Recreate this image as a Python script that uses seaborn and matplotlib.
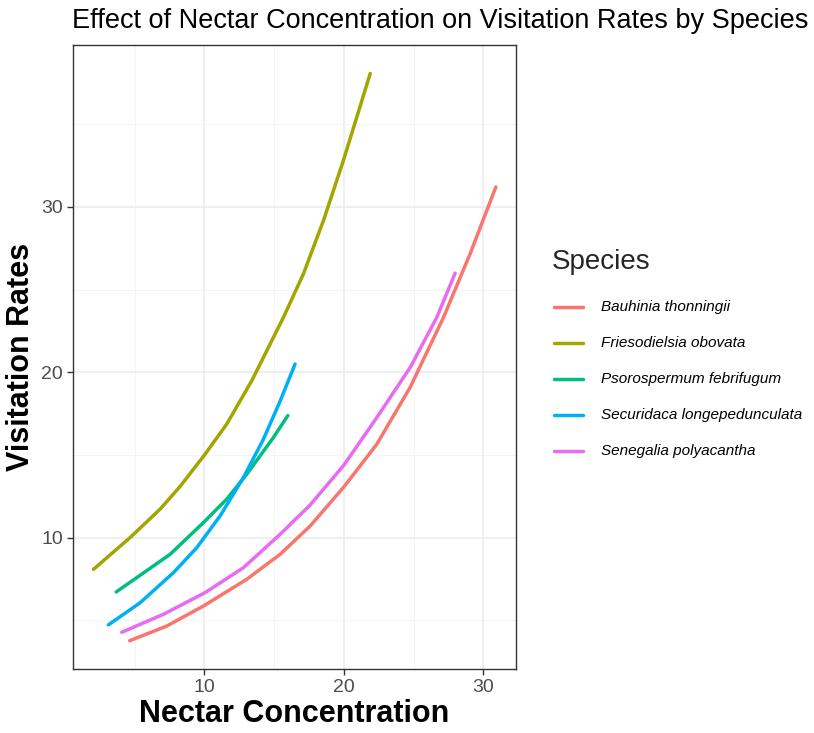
import numpy as np
import pandas as pd
import matplotlib
matplotlib.use("Agg")
import matplotlib.pyplot as plt
import seaborn as sns
from matplotlib.ticker import MultipleLocator
from matplotlib.lines import Line2D

species = ["Bauhinia thonningii", "Friesodielsia obovata", "Psorospermum febrifugum",
           "Securidaca longepedunculata", "Senegalia polyacantha"]
colors = ["#F8766D", "#A3A500", "#00BF7D", "#00B0F6", "#E76BF3"]

bau_x = [4.64, 7.30, 9.93, 13.04, 15.43, 17.58, 19.97, 22.37, 24.76, 27.15, 29.06, 30.9]
bau_y = [3.76, 4.65, 5.86, 7.48, 8.99, 10.7, 13.03, 15.66, 19.1, 23.33, 27.18, 31.21]

fri_x = [2.04, 4.67, 6.82, 8.26, 10.05, 11.6, 13.4, 15.67, 17.1, 18.54, 19.97, 20.93, 21.89]
fri_y = [8.08, 10.0, 11.72, 13.1, 15.05, 16.87, 19.5, 23.33, 25.96, 29.19, 32.83, 35.45, 38.08]

pso_x = [3.67, 5.15, 7.54, 9.93, 11.6, 13.04, 14.95, 15.98]
pso_y = [6.71, 7.58, 8.99, 10.91, 12.33, 13.84, 16.06, 17.38]

sec_x = [3.11, 5.39, 7.78, 9.45, 11.13, 12.8, 14.2, 15.4, 16.5]
sec_y = [4.72, 6.06, 7.88, 9.39, 11.32, 13.64, 15.9, 18.2, 20.5]

sen_x = [4.07, 7.06, 10.05, 12.8, 15.43, 17.58, 19.97, 22.37, 24.76, 26.67, 27.98]
sen_y = [4.27, 5.36, 6.67, 8.18, 10.2, 11.97, 14.35, 17.27, 20.3, 23.33, 26.0]

xs = [bau_x, fri_x, pso_x, sec_x, sen_x]
ys = [bau_y, fri_y, pso_y, sec_y, sen_y]

frames = []
for name, x, y in zip(species, xs, ys):
    frames.append(pd.DataFrame({"Nectar": x, "Visits": y, "Species": name}))
df = pd.concat(frames, ignore_index=True)

sns.set_theme(style="white")
plt.rcParams["font.family"] = ["Liberation Sans", "DejaVu Sans"]

fig = plt.figure(figsize=(8.14, 7.33), dpi=100)
ax = fig.add_axes([0.0893, 0.0869, 0.634 - 0.0893, 0.9386 - 0.0869])

sns.lineplot(data=df, x="Nectar", y="Visits", hue="Species", hue_order=species,
             palette=colors, estimator=None, sort=False, linewidth=2.5, ax=ax, legend=False)

ax.set_xlim(0.55, 32.35)
ax.set_ylim(2.03, 39.8)
ax.xaxis.set_major_locator(MultipleLocator(10))
ax.xaxis.set_minor_locator(MultipleLocator(5))
ax.yaxis.set_major_locator(MultipleLocator(10))
ax.yaxis.set_minor_locator(MultipleLocator(5))
ax.grid(which="major", color="#EBEBEB", linewidth=1.1)
ax.grid(which="minor", color="#F2F2F2", linewidth=0.6)
ax.set_axisbelow(True)
for s in ax.spines.values():
    s.set_color("#333333")
    s.set_linewidth(1.0)
ax.tick_params(axis="both", which="major", length=4, width=1, color="#333333",
               labelsize=14, labelcolor="#4D4D4D", pad=3, bottom=True, left=True)
ax.tick_params(which="minor", length=0)

ax.set_xlabel("Nectar Concentration", fontsize=22, fontweight="bold", color="black", labelpad=2)
ax.set_ylabel("Visitation Rates", fontsize=22, fontweight="bold", color="black", labelpad=4)
fig.text(0.0885, 0.972, "Effect of Nectar Concentration on Visitation Rates by Species",
         fontsize=19.5, ha="left", va="center", color="black")

# legend
fig.text(552 / 814, 1 - 262 / 733, "Species", fontsize=20, ha="left", va="center")
key_y = [306.5, 343, 378.5, 414.5, 451]
for name, c, yy in zip(species, colors, key_y):
    yf = 1 - yy / 733
    fig.add_artist(Line2D([554 / 814, 583 / 814], [yf, yf], color=c, linewidth=2.5,
                          transform=fig.transFigure))
    fig.text(601 / 814, yf, name, fontsize=11, style="italic", ha="left", va="center",
             color="black")

fig.savefig("out.png", dpi=100)
